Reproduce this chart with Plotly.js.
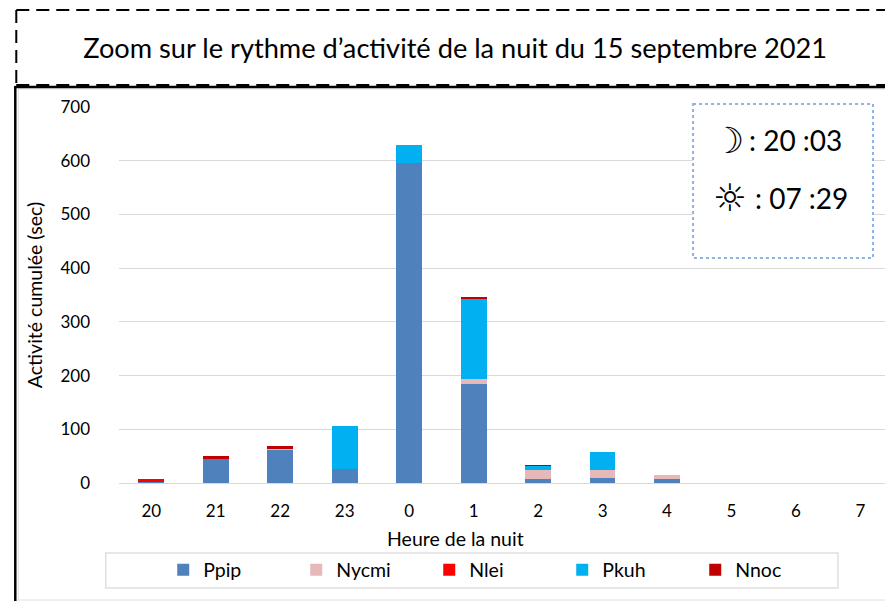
<!DOCTYPE html>
<html><head><meta charset="utf-8">
<script src="https://cdn.plot.ly/plotly-3.0.1.min.js"></script>
<style>html,body{margin:0;padding:0;background:#fff;overflow:hidden}#c{width:885px;height:601px}</style>
</head><body><div id="c"></div>
<script>
const hours = ['20','21','22','23','0','1','2','3','4','5','6','7'];
const ppip  = [2,45,62,27,595,184,7,10,8,0,0,0];
const nycmi = [0,0,3,0,0,10,17,14,6,0,0,0];
const nlei  = [5,0,0,0,0,0,0,0,0,0,0,0];
const pkuh  = [0,0,0,79,35,149,8,33,0,0,0,0];
const nnoc  = [0,5,3,0,0,3,1,0,0,0,0,0];
const names = ['Ppip','Nycmi','Nlei','Pkuh','Nnoc'];
const colors = ['#4f81bd','#e6b8b7','#ff0000','#00b0f0','#c00000'];
const series = [ppip,nycmi,nlei,pkuh,nnoc];
const titleText = 'Zoom sur le rythme d’activité de la nuit du 15 septembre 2021';
const font = 'Lato, "Open Sans", sans-serif';

const L=118.75, R=885, T=107, B=483;
const px = v => (v-L)/(R-L);
const py = v => (B-v)/(B-T);
const box = (x0,y0,x1,y1,line,fill) => ({type:'rect',xref:'paper',yref:'paper',x0:px(x0),x1:px(x1),y0:py(y0),y1:py(y1),line,fillcolor:fill||'rgba(0,0,0,0)',layer:'above'});
const seg = (x0,y0,x1,y1,line) => ({type:'line',xref:'paper',yref:'paper',x0:px(x0),x1:px(x1),y0:py(y0),y1:py(y1),line,layer:'above'});
const note = (text,x,y,size,f,anchor) => ({text,xref:'paper',yref:'paper',x:px(x),y:py(y),xanchor:anchor||'center',yanchor:'middle',showarrow:false,font:{family:f||font,size,color:'#000'}});

const traces = series.map((y,i)=>({type:'bar',name:names[i],x:hours,y,marker:{color:colors[i]},width:0.4,hoverinfo:'name+y'}));
const dash = {color:'#000',width:2,dash:'13px,7px'};
const layout = {
  width:885,height:601,barmode:'stack',showlegend:true,
  paper_bgcolor:'#fff',plot_bgcolor:'#fff',
  margin:{l:L,r:0,t:T,b:601-B,pad:0},
  font:{family:font,size:17,color:'#000'},
  title:{text:titleText,font:{family:font,size:27.2,color:'#000'},xref:'paper',yref:'container',x:px(455),xanchor:'center',y:1-48/601,yanchor:'middle'},
  xaxis:{type:'category',categoryorder:'array',categoryarray:hours,range:[-0.5,11.38],showgrid:false,showline:true,linecolor:'#d9d9d9',linewidth:1,ticks:'',tickfont:{family:font,size:17},ticklabelstandoff:13,zeroline:false,fixedrange:true},
  yaxis:{range:[0,700],tick0:0,dtick:100,gridcolor:'#d9d9d9',gridwidth:1,zeroline:false,showline:false,ticks:'',tickfont:{family:font,size:17},ticklabelstandoff:28,title:{text:'Activité cumulée (sec)',font:{family:font,size:19.5},standoff:12},fixedrange:true},
  legend:{orientation:'h',x:px(163),xanchor:'left',y:py(570),yanchor:'middle',entrywidth:88,entrywidthmode:'pixels',traceorder:'normal',font:{family:font,size:19.5},bgcolor:'rgba(0,0,0,0)',itemclick:false,itemdoubleclick:false},
  shapes:[
    box(105.5,553,838,588,{color:'#e0e0e0',width:1.5}),
    seg(18,600,890,600,{color:'#e0e0e0',width:1}),
    seg(18,89,890,89,{color:'#e0e0e0',width:1}),
    seg(18,89,18,601,{color:'#e0e0e0',width:1}),
    box(693,104,873,258,{color:'#8db4e2',width:2,dash:'dot'},'#fff'),
    seg(16,10,890,10,dash),
    seg(16,10,16,85,dash),
    seg(16,85,890,85,dash),
    seg(15,87,890,87,{color:'#000',width:2.5}),
    seg(15,86,15,601,{color:'#000',width:2.5})
  ],
  annotations:[
    note('Heure de la nuit',455,538,19.5),
    note('☽',728,140,36,'"DejaVu Sans"'),
    note(': 20 :03',747,140,28,font,'left'),
    note('☼',730,198,38,'"DejaVu Sans"'),
    note(': 07 :29',753,198,28,font,'left')
  ]
};
Plotly.newPlot('c',traces,layout,{displayModeBar:false});
</script></body></html>
